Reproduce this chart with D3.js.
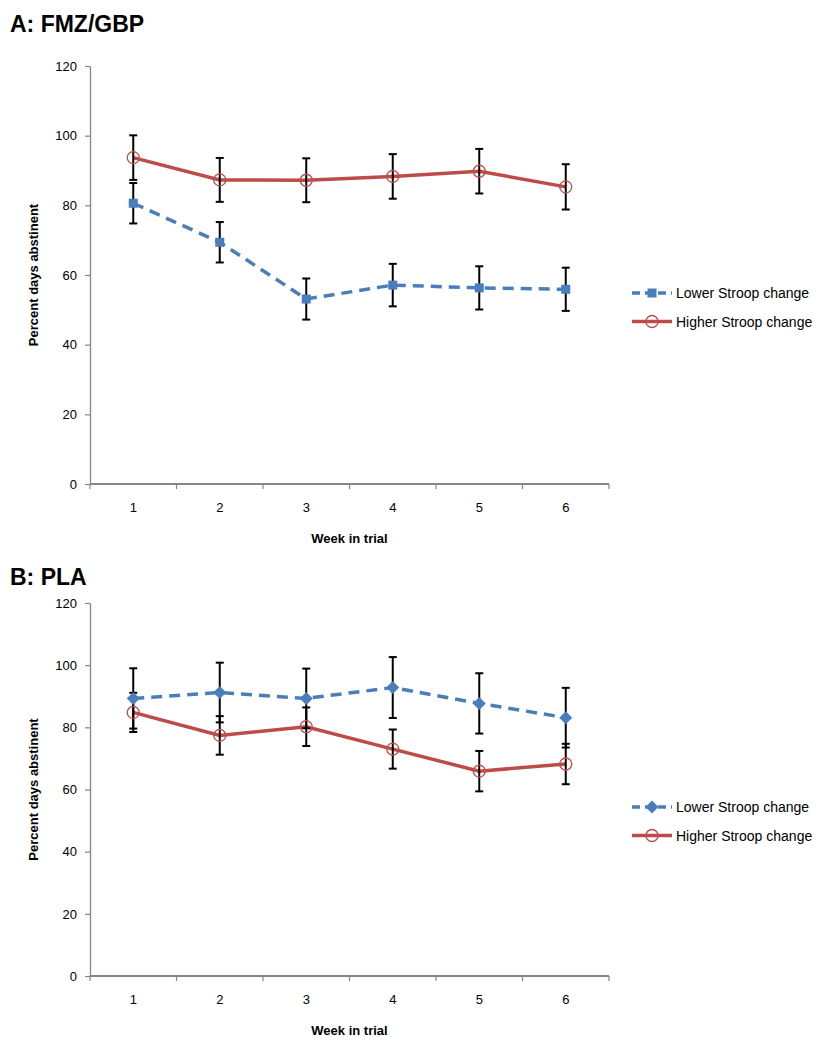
<!DOCTYPE html>
<html><head><meta charset="utf-8">
<script src="https://cdn.jsdelivr.net/npm/d3@7"></script>
<style>
body{margin:0;background:#fff;}
svg{font-family:"Liberation Sans",Arial,sans-serif;}
</style></head>
<body>
<svg id="chart" width="818" height="1050"></svg>
<script>
const weeks = [1, 2, 3, 4, 5, 6];
const yTicks = [0, 20, 40, 60, 80, 100, 120];
const seriesNames = ["Lower Stroop change", "Higher Stroop change"];

const aLowerMean = [80.6, 69.4, 53.1, 57.1, 56.3, 55.9];
const aLowerErr  = [5.8, 5.8, 5.9, 6.1, 6.2, 6.2];
const aHigherMean = [93.7, 87.3, 87.2, 88.3, 89.8, 85.3];
const aHigherErr  = [6.4, 6.3, 6.3, 6.4, 6.4, 6.5];

const bLowerMean = [89.3, 91.2, 89.3, 92.8, 87.7, 83.1];
const bLowerErr  = [9.7, 9.6, 9.6, 9.8, 9.7, 9.6];
const bHigherMean = [84.8, 77.4, 80.2, 73.0, 65.9, 68.2];
const bHigherErr  = [6.3, 6.2, 6.2, 6.3, 6.5, 6.5];

const BLUE = "#4a7ebb", RED = "#be4b48", AXIS = "#868686";
const svg = d3.select("#chart");

function panel(cfg) {
  const g = svg.append("g");
  const x = d3.scaleBand().domain(weeks).range([cfg.x0, cfg.x1]).padding(0);
  const y = d3.scaleLinear().domain([0, 120]).range([cfg.yBottom, cfg.yTop]);
  const cx = d => x(d) + x.bandwidth() / 2;

  g.append("text").attr("x", 10).attr("y", cfg.titleY)
    .attr("font-size", 23).attr("font-weight", "bold").text(cfg.title);

  // y axis
  const ya = g.append("g").attr("transform", `translate(${cfg.x0},0)`)
    .call(d3.axisLeft(y).tickValues(yTicks).tickSize(5).tickPadding(8).tickSizeOuter(0));
  ya.select(".domain").attr("stroke", AXIS).attr("stroke-width", 1.3);
  ya.selectAll(".tick line").attr("stroke", AXIS).attr("stroke-width", 1.2);
  ya.selectAll(".tick text").attr("font-size", 13).attr("fill", "#000")
    .attr("font-family", "Liberation Sans, Arial, sans-serif");

  // x axis line
  g.append("line").attr("x1", cfg.x0).attr("x2", cfg.x1)
    .attr("y1", y(0)).attr("y2", y(0)).attr("stroke", AXIS).attr("stroke-width", 1.8);
  const bounds = weeks.map(d => x(d)).concat([x(weeks[weeks.length - 1]) + x.bandwidth()]);
  g.selectAll(".xt").data(bounds).join("line")
    .attr("x1", d => d).attr("x2", d => d)
    .attr("y1", y(0)).attr("y2", y(0) + 5).attr("stroke", AXIS).attr("stroke-width", 1.2);
  g.selectAll(".xl").data(weeks).join("text")
    .attr("x", cx).attr("y", y(0) + 28).attr("text-anchor", "middle")
    .attr("font-size", 13).text(d => d);

  g.append("text").attr("x", (cfg.x0 + cfg.x1) / 2).attr("y", y(0) + 59)
    .attr("text-anchor", "middle").attr("font-size", 13).attr("font-weight", "bold")
    .text("Week in trial");
  g.append("text").attr("transform", `translate(38,${(y(0) + y(120)) / 2}) rotate(-90)`)
    .attr("text-anchor", "middle").attr("font-size", 13).attr("font-weight", "bold")
    .text("Percent days abstinent");

  const series = [
    {mean: cfg.lowerMean, err: cfg.lowerErr, color: BLUE, dash: "11,7", marker: cfg.lowerMarker},
    {mean: cfg.higherMean, err: cfg.higherErr, color: RED, dash: null, marker: "circle"}
  ];

  const line = d3.line().x((d, i) => cx(weeks[i])).y(d => y(d));

  series.forEach(s => {
    g.append("path").datum(s.mean).attr("d", line).attr("fill", "none")
      .attr("stroke", s.color).attr("stroke-width", 3.5)
      .attr("stroke-dasharray", s.dash);
  });

  series.forEach(s => {
    const eb = g.append("g");
    s.mean.forEach((m, i) => {
      const xx = cx(weeks[i]);
      const hi = y(m + s.err[i]), lo = y(m - s.err[i]);
      eb.append("line").attr("x1", xx).attr("x2", xx).attr("y1", hi).attr("y2", lo)
        .attr("stroke", "#000").attr("stroke-width", 2);
      [hi, lo].forEach(v => eb.append("line").attr("x1", xx - 4).attr("x2", xx + 4)
        .attr("y1", v).attr("y2", v).attr("stroke", "#000").attr("stroke-width", 2));
    });
  });

  function drawMarker(sel, type, color) {
    if (type === "square") {
      sel.append("rect").attr("x", -4.5).attr("y", -4.5).attr("width", 9).attr("height", 9)
        .attr("fill", color);
    } else if (type === "diamond") {
      sel.append("path").attr("d", "M0,-6.5L6.5,0L0,6.5L-6.5,0Z").attr("fill", color);
    } else {
      sel.append("circle").attr("r", 6).attr("fill", "none")
        .attr("stroke", color).attr("stroke-width", 1.3);
    }
  }

  series.forEach(s => {
    s.mean.forEach((m, i) => {
      const mg = g.append("g").attr("transform", `translate(${cx(weeks[i])},${y(m)})`);
      drawMarker(mg, s.marker, s.color);
    });
  });

  series.forEach((s, k) => {
    const ly = cfg.legendY + k * 28.5;
    const lg = g.append("g").attr("transform", `translate(632,${ly})`);
    lg.append("line").attr("x1", 0).attr("x2", 40).attr("y1", 0).attr("y2", 0)
      .attr("stroke", s.color).attr("stroke-width", 3.5)
      .attr("stroke-dasharray", s.dash ? "8,5" : null);
    drawMarker(lg.append("g").attr("transform", "translate(20,0)"), s.marker, s.color);
    lg.append("text").attr("x", 44).attr("y", 5).attr("font-size", 14)
      .text(seriesNames[k]);
  });
}

panel({
  title: "A: FMZ/GBP", titleY: 32, x0: 90, x1: 609, yTop: 66, yBottom: 484,
  lowerMean: aLowerMean, lowerErr: aLowerErr, higherMean: aHigherMean, higherErr: aHigherErr,
  lowerMarker: "square", legendY: 293
});
panel({
  title: "B: PLA", titleY: 585, x0: 90, x1: 609, yTop: 603, yBottom: 976,
  lowerMean: bLowerMean, lowerErr: bLowerErr, higherMean: bHigherMean, higherErr: bHigherErr,
  lowerMarker: "diamond", legendY: 807
});
</script>
</body></html>
